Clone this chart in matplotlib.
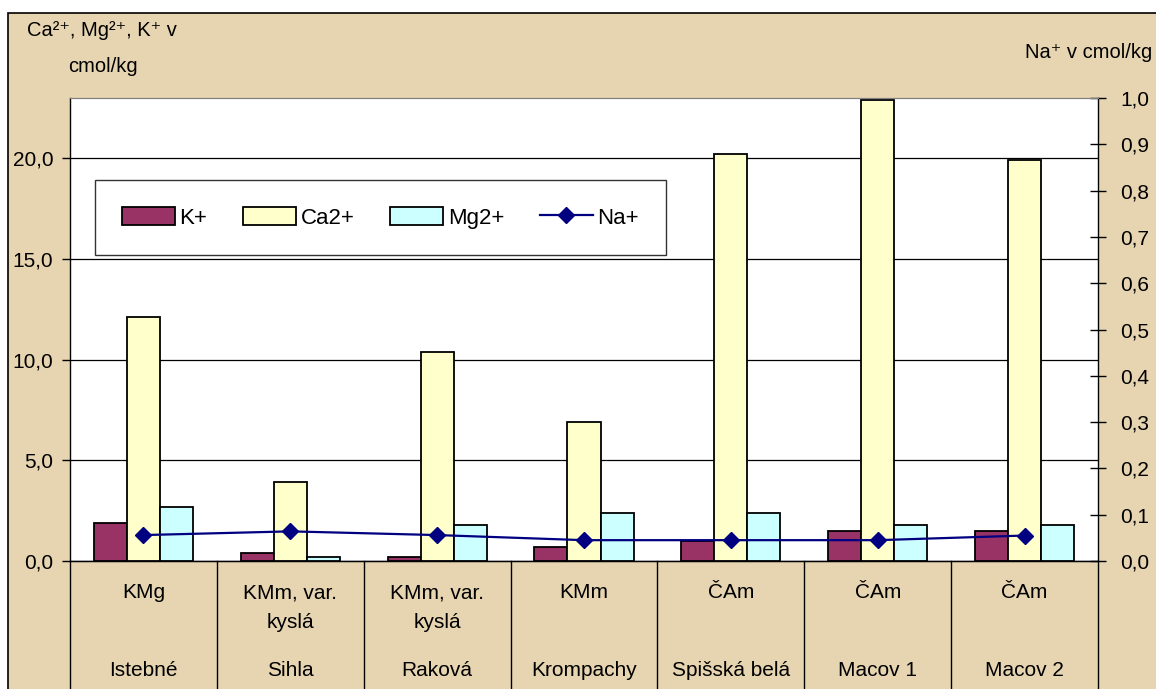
import matplotlib
matplotlib.use("Agg")
import matplotlib.pyplot as plt
import numpy as np
from matplotlib.patches import Rectangle
from matplotlib.ticker import FuncFormatter

plt.rcParams["font.family"] = ["Liberation Sans", "DejaVu Sans"]

# data
soils = ["KMg", "KMm, var.\nkyslá", "KMm, var.\nkyslá", "KMm", "ČAm", "ČAm", "ČAm"]
sites = ["Istebné", "Sihla", "Raková", "Krompachy", "Spišská belá", "Macov 1", "Macov 2"]
k_vals  = [1.9, 0.4, 0.2, 0.7, 1.0, 1.5, 1.5]
ca_vals = [12.1, 3.9, 10.4, 6.9, 20.2, 22.9, 19.9]
mg_vals = [2.7, 0.2, 1.8, 2.4, 2.4, 1.8, 1.8]
na_vals = [0.056, 0.064, 0.056, 0.045, 0.045, 0.045, 0.055]

BG = "#E7D5B1"
W, H = 1156, 689
FS = 15
fig = plt.figure(figsize=(W / 100, H / 100), dpi=100, facecolor="white")
# chart area with parchment fill and black frame
fig.patches.append(Rectangle((8 / W, -0.01), 1.0, 1 - 13 / H + 0.01,
                             transform=fig.transFigure, facecolor=BG,
                             edgecolor="black", linewidth=1.2, zorder=-10))

ax = fig.add_axes([70 / W, 1 - 561 / H, (1098 - 70) / W, (561 - 98) / H])
ax.set_facecolor("white")
x = np.arange(len(sites))
bw = 0.225
ax.bar(x - bw, k_vals, bw, color="#993366", edgecolor="black", linewidth=1.3, label="K+", zorder=3)
ax.bar(x, ca_vals, bw, color="#FFFFCC", edgecolor="black", linewidth=1.3, label="Ca2+", zorder=3)
ax.bar(x + bw, mg_vals, bw, color="#CCFFFF", edgecolor="black", linewidth=1.3, label="Mg2+", zorder=3)
ax.set_xlim(-0.5, len(sites) - 0.5)
ax.set_ylim(0, 23)
ax.set_yticks([0, 5, 10, 15, 20])
ax.yaxis.set_major_formatter(FuncFormatter(lambda v, p: f"{v:.1f}".replace(".", ",")))
ax.grid(axis="y", color="black", linewidth=0.9, zorder=0)
ax.set_xticks([])
ax.tick_params(axis="y", direction="out", length=6, pad=6, labelsize=FS, width=1)
ax.spines["top"].set_color("#808080")
ax.spines["right"].set_visible(False)
ax.spines["left"].set_linewidth(1)
ax.spines["bottom"].set_linewidth(1)

ax2 = ax.twinx()
ax2.plot(x, na_vals, color="#000080", marker="D", markersize=8, linewidth=1.6, label="Na+", zorder=4)
ax2.set_ylim(0, 1.0)
ax2.set_yticks(np.arange(0, 1.01, 0.1))
ax2.yaxis.set_major_formatter(FuncFormatter(lambda v, p: f"{v:.1f}".replace(".", ",")))
ax2.tick_params(axis="y", direction="inout", length=12, pad=10, labelsize=FS, width=1)
ax2.spines["top"].set_color("#808080")
ax2.spines["right"].set_linewidth(1)
ax2.spines["left"].set_visible(False)

# multi-level category axis
ph = 561 - 98
depth = (H - 561) / ph
xt = ax.get_xaxis_transform()
for i in range(len(sites) + 1):
    ax.plot([i - 0.5, i - 0.5], [0, -depth - 0.02], transform=xt,
            color="black", linewidth=1, clip_on=False)
for i in range(len(sites)):
    if "\n" in soils[i]:
        top, bottom = soils[i].split("\n")
        ax.text(i, -(593 - 561) / ph, top, transform=xt, ha="center", va="center", fontsize=FS)
        ax.text(i, -(623 - 561) / ph, bottom, transform=xt, ha="center", va="center", fontsize=FS)
    else:
        ax.text(i, -(593 - 561) / ph, soils[i], transform=xt, ha="center", va="center", fontsize=FS)
    ax.text(i, -(671 - 561) / ph, sites[i], transform=xt, ha="center", va="center", fontsize=FS)

# axis titles
fig.text(27 / W, 1 - 31 / H, "Ca²⁺, Mg²⁺, K⁺ v", fontsize=14.5, va="center", ha="left")
fig.text(68 / W, 1 - 67 / H, "cmol/kg", fontsize=14.5, va="center", ha="left")
fig.text(1152 / W, 1 - 52 / H, "Na⁺ v cmol/kg", fontsize=14.5, va="center", ha="right")

# legend
h1, l1 = ax.get_legend_handles_labels()
h2, l2 = ax2.get_legend_handles_labels()
leg = ax2.legend(h1 + h2, l1 + l2, loc="upper left",
                 bbox_to_anchor=((95 - 70) / (1098 - 70), 1 - (180 - 98) / ph),
                 ncol=4, fontsize=16, frameon=True, fancybox=False, edgecolor="black",
                 handlelength=2.4, handleheight=0.9, handletextpad=0.2, columnspacing=1.6,
                 borderpad=1.2, borderaxespad=0)
leg.get_frame().set_linewidth(1)

fig.savefig("out.png", dpi=100, facecolor="white")
